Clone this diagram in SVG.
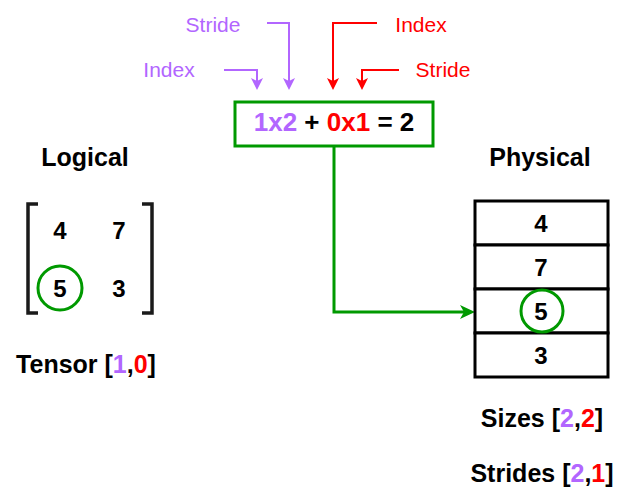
<svg xmlns="http://www.w3.org/2000/svg" width="618" height="489" viewBox="0 0 618 489">
<style>
.lbl{font-family:"Liberation Sans",Arial,sans-serif;font-size:21px;text-anchor:middle}
.b{font-family:"Liberation Sans",Arial,sans-serif;font-size:25px;font-weight:bold;text-anchor:middle;fill:#000}
.n{font-size:24px}
.p{fill:#B266FF}.r{fill:#FF0000}
.box{fill:#fff;stroke:#000;stroke-width:3}
.ring{fill:none;stroke:#009900;stroke-width:3}
.brk{fill:none;stroke:#1a1a1a;stroke-width:3.5}
</style>
<defs>
<marker id="ap" markerUnits="userSpaceOnUse" markerWidth="12" markerHeight="12" refX="3" refY="6" orient="auto"><path d="M0,0 L12,6 L0,12 L3,6 Z" fill="#B266FF"/></marker>
<marker id="ar" markerUnits="userSpaceOnUse" markerWidth="12" markerHeight="12" refX="3" refY="6" orient="auto"><path d="M0,0 L12,6 L0,12 L3,6 Z" fill="#FF0000"/></marker>
<marker id="ag" markerUnits="userSpaceOnUse" markerWidth="15" markerHeight="14" refX="4" refY="7" orient="auto"><path d="M0,0 L15,7 L0,14 L4,7 Z" fill="#009900"/></marker>
</defs>
<g id="labels">
<text class="lbl p" x="213" y="32">Stride</text>
<text class="lbl p" x="169" y="77">Index</text>
<text class="lbl r" x="421" y="32">Index</text>
<text class="lbl r" x="443" y="77">Stride</text>
</g>
<g id="connectors" fill="none" stroke-width="2">
<path d="M267,23 H289 V81" stroke="#B266FF" marker-end="url(#ap)"/>
<path d="M224,70 H257 V81" stroke="#B266FF" marker-end="url(#ap)"/>
<path d="M377,23 H333 V81" stroke="#FF0000" marker-end="url(#ar)"/>
<path d="M399,70 H362 V81" stroke="#FF0000" marker-end="url(#ar)"/>
<path d="M334,146 V312 H464" stroke="#009900" stroke-width="3" marker-end="url(#ag)"/>
</g>
<g id="formula">
<rect x="235" y="102" width="198" height="44" fill="#fff" stroke="#009900" stroke-width="3"/>
<text class="b" x="334" y="131" style="font-size:26px"><tspan class="p">1x2</tspan> + <tspan class="r">0x1</tspan> = 2</text>
</g>
<g id="logical">
<text class="b" x="85" y="166">Logical</text>
<path class="brk" d="M38,204 H28 V313 H38"/>
<path class="brk" d="M142,204 H152 V313 H142"/>
<text class="b n" x="60" y="239">4</text>
<text class="b n" x="119" y="239">7</text>
<text class="b n" x="60" y="297">5</text>
<text class="b n" x="119" y="297">3</text>
<circle class="ring" cx="60" cy="288" r="22"/>
<text class="b" x="86" y="373">Tensor [<tspan class="p">1</tspan>,<tspan class="r">0</tspan>]</text>
</g>
<g id="physical">
<text class="b" x="540" y="166">Physical</text>
<rect class="box" x="475" y="201" width="133" height="44"/>
<rect class="box" x="475" y="245" width="133" height="44"/>
<rect class="box" x="475" y="289" width="133" height="44"/>
<rect class="box" x="475" y="333" width="133" height="44"/>
<text class="b n" x="541" y="232">4</text>
<text class="b n" x="541" y="276">7</text>
<text class="b n" x="541" y="320">5</text>
<text class="b n" x="541" y="364">3</text>
<circle class="ring" cx="542" cy="311" r="21"/>
<text class="b" x="542" y="427">Sizes [<tspan class="p">2</tspan>,<tspan class="r">2</tspan>]</text>
<text class="b" x="542" y="482">Strides [<tspan class="p">2</tspan>,<tspan class="r">1</tspan>]</text>
</g>
</svg>
